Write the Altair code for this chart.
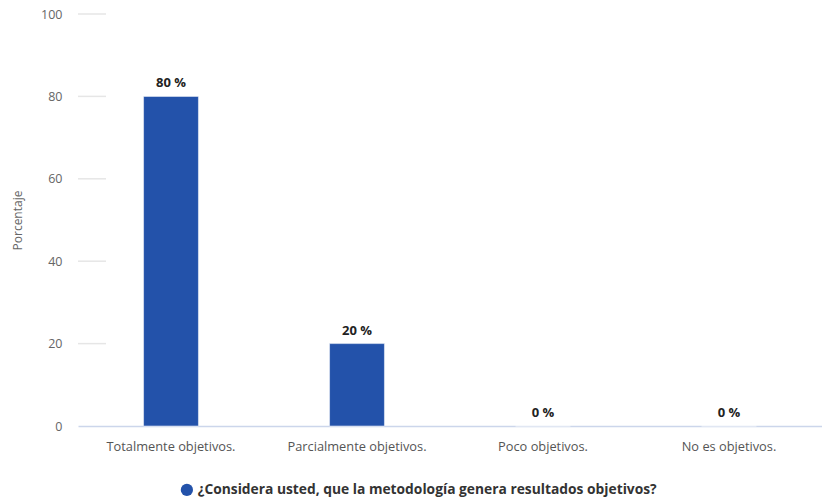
import altair as alt
import pandas as pd

categories = ["Totalmente objetivos.", "Parcialmente objetivos.", "Poco objetivos.", "No es objetivos."]
values = [80, 20, 0, 0]
series_name = "¿Considera usted, que la metodología genera resultados objetivos?"
y_ticks = [0, 20, 40, 60, 80, 100]
grid_stub_values = [20, 40, 60, 80, 100]

df = pd.DataFrame({
    "cat": categories,
    "val": values,
    "label": [f"{v} %" for v in values],
    "serie": [series_name] * len(values),
})
grid_df = pd.DataFrame({"v": grid_stub_values})

BLUE = "#2352AA"
FONT = "Open Sans"

x_enc = alt.X(
    "cat:N",
    sort=categories,
    scale=alt.Scale(paddingInner=0.705, paddingOuter=0.3525),
    axis=alt.Axis(
        title=None, labelAngle=0, ticks=False, labelPadding=14,
        domainColor="#ccd6eb", domainWidth=1.5, labelColor="#555555",
        labelFontSize=12.8, labelFont=FONT, labelLimit=0,
    ),
)
y_scale = alt.Scale(domain=[0, 100], nice=False)

bars = alt.Chart(df).mark_bar(color=BLUE, stroke="#ffffff", strokeWidth=0.5).encode(
    x=x_enc,
    y=alt.Y(
        "val:Q", scale=y_scale,
        axis=alt.Axis(
            values=y_ticks, title="Porcentaje", grid=False, domain=False, ticks=False,
            labelPadding=16, labelColor="#666666", labelFontSize=12.5, labelFont=FONT,
            titleColor="#666666", titleFontSize=12, titleFontWeight="normal", titleFont=FONT,
            titleX=-54, titleY=206,
        ),
    ),
    color=alt.Color(
        "serie:N",
        scale=alt.Scale(range=[BLUE]),
        legend=alt.Legend(
            title=None, orient="none", legendX=102, legendY=469,
            symbolType="circle", symbolSize=150, symbolStrokeWidth=0,
            labelFontSize=13.8, labelFontWeight="bold", labelColor="#333333",
            labelFont=FONT, labelLimit=0, direction="horizontal",
        ),
    ),
)

labels = alt.Chart(df).mark_text(
    baseline="bottom", dy=-6, fontWeight="bold", fontSize=13, color="#222222", font=FONT
).encode(
    x=alt.X("cat:N", sort=categories),
    y=alt.Y("val:Q", scale=y_scale),
    text="label:N",
)

stubs = alt.Chart(grid_df).mark_rule(color="#e6e6e6", strokeWidth=1.5).encode(
    x=alt.value(0), x2=alt.value(28), y=alt.Y("v:Q", scale=y_scale),
)

chart = alt.layer(stubs, bars, labels).properties(
    width=744, height=412,
    autosize=alt.AutoSizeParams(type="none"),
    padding={"left": 78, "top": 14, "right": 0, "bottom": 75},
    background="#ffffff",
).configure_view(stroke=None)

chart.save("out.html", embed_options={"renderer": "svg", "actions": False})
